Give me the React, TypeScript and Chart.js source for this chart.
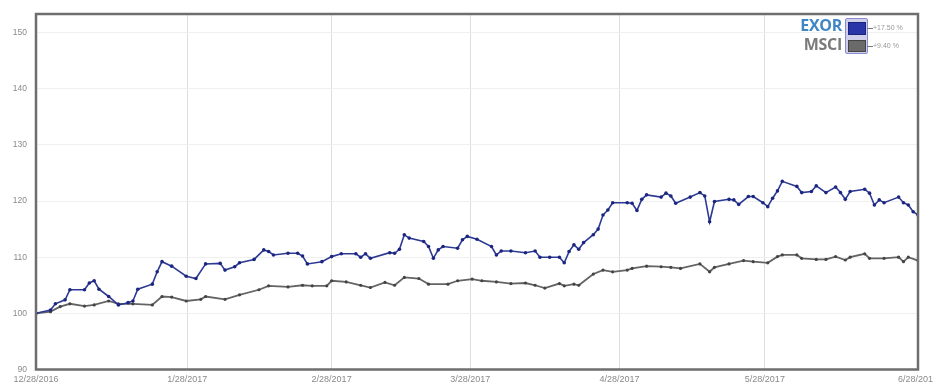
import React, { useEffect, useRef } from "react";
import { Chart, registerables } from "chart.js";

Chart.register(...registerables);

// X axis: days since 12/28/2016 (positions of the date labels on the axis)
const xTickLabels = ["12/28/2016", "1/28/2017", "2/28/2017", "3/28/2017", "4/28/2017", "5/28/2017", "6/28/2017"];
const xTickDays = [0, 31.2, 61, 89.6, 120.4, 150.4, 182];
const yTickValues = [90, 100, 110, 120, 130, 140, 150];

const exorDays = [0, 3, 4, 6, 7, 10, 11, 12, 13, 15, 17, 19, 20, 21, 24, 25, 26, 28, 31, 33, 35, 38, 39, 41, 42, 45, 47, 48, 49, 52, 54, 55, 56, 59, 61, 63, 66, 67, 68, 69, 73, 74, 75, 76, 77, 80, 81, 82, 83, 84, 87, 88, 89, 91, 94, 95, 96, 98, 101, 103, 104, 106, 108, 109, 110, 111, 112, 113, 115, 116, 117, 118, 119, 122, 123, 124, 125, 126, 129, 130, 131, 132, 135, 137, 138, 139, 140, 143, 144, 145, 147, 148, 150, 151, 152, 153, 154, 157, 158, 160, 161, 163, 165, 166, 167, 168, 171, 172, 173, 174, 175, 178, 179, 180, 181, 182];
const exorValues = [100.0, 100.6, 101.7, 102.4, 104.2, 104.2, 105.4, 105.8, 104.3, 103.0, 101.5, 101.9, 102.2, 104.3, 105.2, 107.4, 109.2, 108.4, 106.6, 106.2, 108.8, 108.9, 107.7, 108.3, 109.0, 109.6, 111.3, 111.0, 110.4, 110.7, 110.7, 110.2, 108.8, 109.2, 110.1, 110.6, 110.6, 110.0, 110.6, 109.8, 110.8, 110.7, 111.4, 114.0, 113.4, 112.8, 111.9, 109.8, 111.3, 111.9, 111.6, 113.1, 113.7, 113.2, 111.9, 110.4, 111.1, 111.1, 110.8, 111.1, 110.0, 110.0, 110.0, 109.0, 111.0, 112.2, 111.4, 112.6, 114.0, 115.0, 117.5, 118.4, 119.7, 119.7, 119.6, 118.3, 120.3, 121.1, 120.7, 121.4, 120.9, 119.6, 120.7, 121.5, 120.9, 116.3, 119.9, 120.3, 120.2, 119.4, 120.8, 120.8, 119.7, 119.0, 120.5, 121.8, 123.5, 122.6, 121.5, 121.7, 122.7, 121.5, 122.5, 121.5, 120.3, 121.7, 122.1, 121.4, 119.3, 120.2, 119.7, 120.7, 119.7, 119.3, 118.1, 117.5];

const msciDays = [0, 3, 5, 7, 10, 12, 15, 17, 20, 24, 26, 28, 31, 34, 35, 39, 42, 46, 48, 52, 55, 57, 60, 61, 64, 67, 69, 72, 74, 76, 79, 81, 85, 87, 90, 92, 95, 98, 101, 103, 105, 108, 109, 111, 112, 115, 117, 119, 122, 123, 126, 129, 131, 133, 137, 139, 140, 143, 146, 148, 151, 153, 154, 157, 158, 161, 163, 165, 167, 168, 171, 172, 175, 178, 179, 180, 182];
const msciValues = [100.0, 100.3, 101.2, 101.7, 101.3, 101.5, 102.2, 101.7, 101.7, 101.5, 103.0, 102.9, 102.2, 102.5, 103.0, 102.5, 103.3, 104.2, 104.9, 104.7, 105.0, 104.9, 104.9, 105.8, 105.6, 105.0, 104.6, 105.5, 105.0, 106.4, 106.2, 105.2, 105.2, 105.8, 106.1, 105.8, 105.6, 105.3, 105.4, 105.0, 104.5, 105.3, 104.9, 105.2, 105.0, 107.0, 107.7, 107.4, 107.7, 108.0, 108.4, 108.3, 108.2, 108.0, 108.8, 107.4, 108.2, 108.8, 109.4, 109.2, 109.0, 110.1, 110.4, 110.4, 109.8, 109.6, 109.6, 110.1, 109.5, 110.0, 110.6, 109.8, 109.8, 110.0, 109.2, 110.0, 109.4];

const seriesNames = ["EXOR", "MSCI"];
const seriesReturns = ["+17.50 %", "+9.40 %"];

const framePlugin = {
  id: "frame",
  afterDraw(chart: any) {
    const { ctx, chartArea } = chart;
    ctx.save();
    ctx.strokeStyle = "#6e6e6e";
    ctx.lineWidth = 2.5;
    ctx.strokeRect(chartArea.left, chartArea.top, chartArea.right - chartArea.left, chartArea.bottom - chartArea.top);
    ctx.restore();
  },
};

export default function App() {
  const ref = useRef<HTMLCanvasElement | null>(null);

  useEffect(() => {
    if (!ref.current) return;
    const chart = new Chart(ref.current, {
      type: "line",
      data: {
        datasets: [
          {
            label: seriesNames[0],
            data: exorDays.map((d, i) => ({ x: d, y: exorValues[i] })),
            borderColor: "#2c3a94",
            borderWidth: 1.6,
            pointRadius: 1.8,
            pointBorderWidth: 0,
            pointBackgroundColor: "#1c2680",
            tension: 0,
          },
          {
            label: seriesNames[1],
            data: msciDays.map((d, i) => ({ x: d, y: msciValues[i] })),
            borderColor: "#646464",
            borderWidth: 1.8,
            pointRadius: 1.6,
            pointBorderWidth: 0,
            pointBackgroundColor: "#444444",
            tension: 0,
          },
        ],
      },
      options: {
        animation: false,
        responsive: false,
        maintainAspectRatio: false,
        layout: { padding: { top: 14, right: 15, left: 0, bottom: 0 } },
        plugins: { legend: { display: false }, tooltip: { enabled: false } },
        scales: {
          x: {
            type: "linear",
            min: 0,
            max: 182,
            afterBuildTicks: (s: any) => {
              s.ticks = xTickDays.map((v) => ({ value: v }));
            },
            afterFit: (s: any) => {
              s.height = 16.5;
              s.paddingLeft = 0;
              s.paddingRight = 0;
            },
            ticks: {
              autoSkip: false,
              maxRotation: 0,
              minRotation: 0,
              padding: 5,
              color: "#8a8a8a",
              font: { size: 9, family: "Liberation Sans" },
              callback: (_v: any, i: number) => xTickLabels[i],
            },
            grid: { color: "#dddddd", lineWidth: 1, drawTicks: false },
            border: { display: false },
          },
          y: {
            type: "linear",
            min: 90,
            max: 153.3,
            afterBuildTicks: (s: any) => {
              s.ticks = yTickValues.map((v) => ({ value: v }));
            },
            afterFit: (s: any) => {
              s.width = 36;
              s.paddingTop = 0;
              s.paddingBottom = 0;
            },
            ticks: {
              padding: 9,
              color: "#8a8a8a",
              font: { size: 8.5, family: "Liberation Sans" },
              callback: (v: any) => String(v),
            },
            grid: { color: "#f0f0f0", lineWidth: 1, drawTicks: false },
            border: { display: false },
          },
        },
      },
      plugins: [framePlugin],
    } as any);
    return () => chart.destroy();
  }, []);

  const nameStyle: React.CSSProperties = {
    position: "absolute",
    left: 740,
    width: 102,
    textAlign: "right",
    fontFamily: "'Open Sans', sans-serif",
    fontWeight: 700,
    fontSize: 16,
    lineHeight: "19px",
    letterSpacing: "-0.3px",
  };
  const retStyle: React.CSSProperties = {
    position: "absolute",
    left: 873,
    fontFamily: "'Liberation Sans', sans-serif",
    fontSize: 7,
    lineHeight: "8px",
    color: "#999",
    whiteSpace: "nowrap",
  };

  return (
    <div style={{ position: "fixed", left: 0, top: 0, width: 933, height: 386, background: "#fff" }}>
      <canvas ref={ref} width={933} height={386} style={{ position: "absolute", left: 0, top: 0, width: 933, height: 386 }} />
      <div style={{ ...nameStyle, top: 16, color: "#3f86c6" }}>{seriesNames[0]}</div>
      <div style={{ ...nameStyle, top: 35, color: "#7a7a7a" }}>{seriesNames[1]}</div>
      <div
        style={{
          position: "absolute",
          left: 845,
          top: 18,
          width: 21,
          height: 34,
          border: "1.5px solid #8a8ad2",
          borderRadius: 2,
          background: "#cfcfea",
        }}
      />
      <div style={{ position: "absolute", left: 848, top: 22, width: 16, height: 11, background: "#2a36a8", border: "1px solid #1a237e" }} />
      <div style={{ position: "absolute", left: 848, top: 40, width: 16, height: 10, background: "#6a6a6a", border: "1px solid #444" }} />
      <div style={{ position: "absolute", left: 867, top: 28, width: 6, height: 1, background: "#777" }} />
      <div style={{ position: "absolute", left: 867, top: 46, width: 6, height: 1, background: "#777" }} />
      <div style={{ ...retStyle, top: 24 }}>{seriesReturns[0]}</div>
      <div style={{ ...retStyle, top: 42 }}>{seriesReturns[1]}</div>
    </div>
  );
}
